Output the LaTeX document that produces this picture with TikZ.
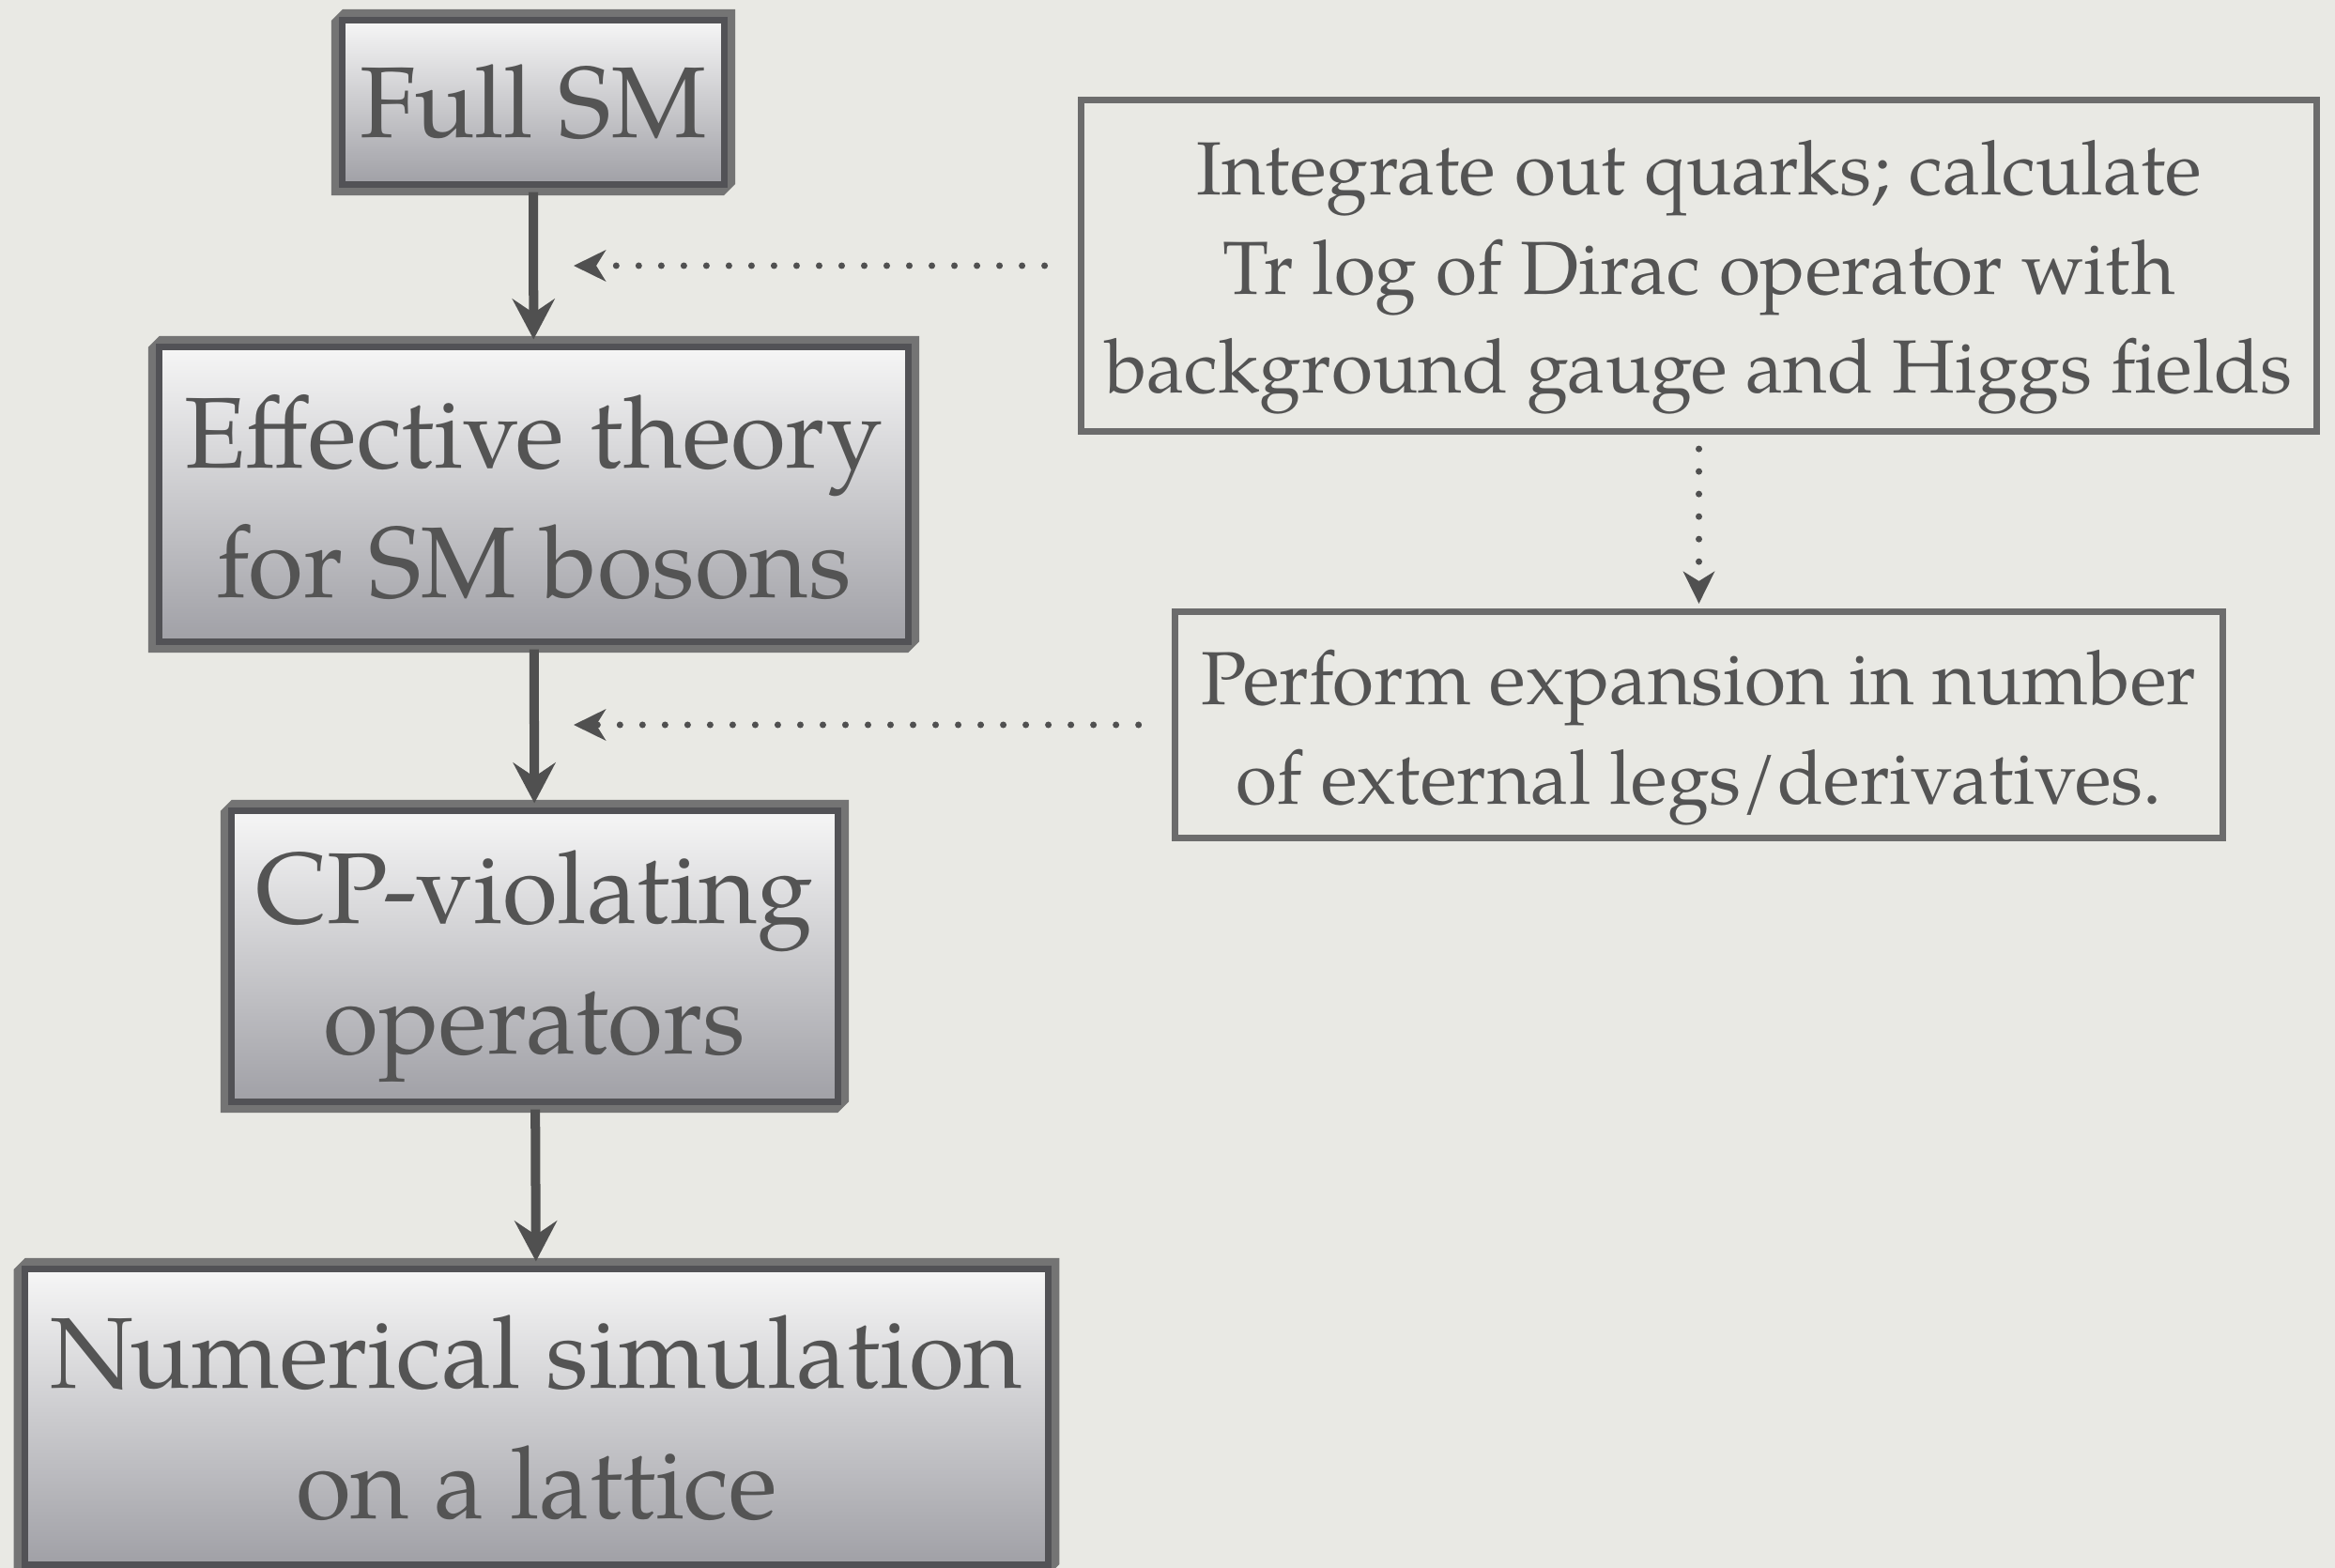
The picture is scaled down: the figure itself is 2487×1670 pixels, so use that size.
\documentclass[tikz,border=0pt]{standalone}
\usepackage{fontspec}
\setmainfont{texgyrepagella}[Extension=.otf, UprightFont=*-regular]
\usetikzlibrary{arrows.meta,calc}

\definecolor{papercol}{RGB}{233,233,228}
\definecolor{inkgray}{RGB}{84,84,84}
\definecolor{banddark}{RGB}{82,82,86}
\definecolor{bandlight}{RGB}{116,116,116}
\definecolor{shadetop}{RGB}{246,246,246}
\definecolor{shadebot}{RGB}{160,160,166}
\definecolor{noteframe}{RGB}{108,108,108}
\definecolor{conn}{RGB}{80,80,80}

\pgfdeclarelayer{sheet}
\pgfdeclarelayer{bevel}
\pgfsetlayers{sheet,bevel,main}

% light outer band with chamfered top-left and bottom-right corners
\newcommand\bevelband[1]{%
  \fill[bandlight]
    ($(#1.north west)+(-11.5,0.5)$) -- ($(#1.north west)+(0.5,-11.5)$)
    -- ($(#1.north east)+(11.5,-11.5)$)
    -- ($(#1.south east)+(11.5,-0.5)$) -- ($(#1.south east)+(-0.5,11.5)$)
    -- ($(#1.south west)+(-11.5,11.5)$) -- cycle;}

% invisible strut on the first line: moves a centred text block down by #1
\newcommand\textdrop[1]{\rule{0pt}{\dimexpr\fontcharht\font`l+2\dimexpr#1\relax\relax}}

\tikzset{
  flowbox/.style={draw=banddark, line width=0.07cm, top color=shadetop,
    bottom color=shadebot, inner sep=0pt, outer sep=0pt, align=center,
    text=inkgray, font=\fontsize{30.5}{39.5}\selectfont},
  notebox/.style={draw=noteframe, line width=0.07cm, inner sep=0pt,
    outer sep=0pt, align=center, text=inkgray,
    font=\fontsize{22.8}{30}\selectfont},
  flowarrow/.style={draw=conn, line width=0.10cm,
    -{Stealth[length=0.43cm,width=0.45cm,inset=0.15cm]},
    shorten <=0.08cm, shorten >=0.08cm},
  dotarrow/.style={draw=conn, line width=0.07cm, line cap=round,
    dash pattern=on 0pt off 0.24cm,
    -{Stealth[length=0.34cm,width=0.33cm,inset=0.1cm]}},
}

\begin{document}
\begin{tikzpicture}[x=0.01cm, y=-0.01cm]
  \useasboundingbox (0,0) rectangle (2487,1670);
  \begin{pgfonlayer}{sheet}
    \fill[papercol] (0,0) rectangle (2487,1670);
  \end{pgfonlayer}

  % main chain
  \node[flowbox, minimum width=4.07cm, minimum height=1.75cm] (full) at (568,109) {Full SM};
  \node[flowbox, minimum width=7.98cm, minimum height=3.14cm] (eff) at (568.5,526.5)
    {\textdrop{0.05cm}Effective theory\\for SM bosons};
  \node[flowbox, minimum width=6.46cm, minimum height=3.10cm] (cp) at (569.5,1018.5)
    {\textdrop{0.12cm}CP-violating\\operators};
  \node[flowbox, minimum width=10.90cm, minimum height=3.15cm] (num) at (571.5,1509)
    {\textdrop{0.03cm}Numerical simulation\\on a lattice};

  % side notes
  \node[notebox, minimum width=13.16cm, minimum height=3.53cm] (integ) at (1809.5,283)
    {\textdrop{0.14cm}Integrate out quarks; calculate\\Tr log of Dirac operator with\\background gauge and Higgs fields};
  \node[notebox, minimum width=11.16cm, minimum height=2.41cm] (perf) at (1809.5,772)
    {\textdrop{0.15cm}Perform expansion in number\\of external legs/derivatives.};

  \begin{pgfonlayer}{bevel}
    \bevelband{full}
    \bevelband{eff}
    \bevelband{cp}
    \bevelband{num}
  \end{pgfonlayer}

  % arrows of the chain
  \draw[flowarrow] (full) -- (eff);
  \draw[flowarrow] (eff) -- (cp);
  \draw[flowarrow] (cp) -- (num);

  % dotted pointers
  \coordinate (tipA) at (611,283);
  \coordinate (tipB) at (611,772);
  \draw[dotarrow, shorten <=0.385cm] (integ.west) -- (tipA);
  \draw[dotarrow, shorten <=0.385cm] (perf.west) -- (tipB);
  \draw[dotarrow, shorten <=0.185cm, shorten >=0.085cm] (integ.south) -- (perf.north);
\end{tikzpicture}
\end{document}
